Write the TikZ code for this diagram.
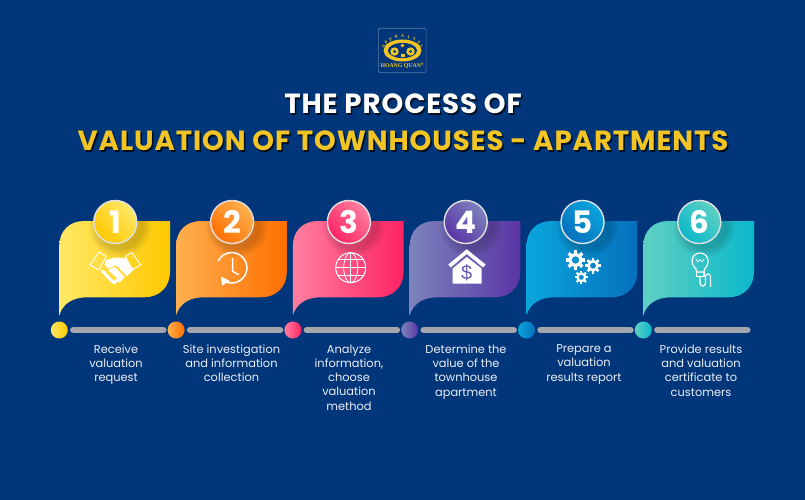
\documentclass[tikz,border=0pt]{standalone}
\usepackage{fontspec}
\setmainfont{Poppins}
\newfontfamily\serifbold{Liberation Serif}
\newfontfamily\plainsans{Liberation Sans}
\newfontfamily\ttlfont[LetterSpace=3.2]{Poppins}
\usetikzlibrary{calc}
\definecolor{bgblue}{HTML}{02367A}
\definecolor{titlegold}{HTML}{F2C524}
\definecolor{barg}{HTML}{A3A6AA}
\definecolor{a1}{HTML}{FFE866}\definecolor{b1}{HTML}{FFC800}
\definecolor{a2}{HTML}{FFB04F}\definecolor{b2}{HTML}{FF6F00}
\definecolor{a3}{HTML}{FF7FA0}\definecolor{b3}{HTML}{FF2464}
\definecolor{a4}{HTML}{7C83BC}\definecolor{b4}{HTML}{5A35A5}
\definecolor{a5}{HTML}{0AA5DC}\definecolor{b5}{HTML}{0670BC}
\definecolor{a6}{HTML}{5FD0C2}\definecolor{b6}{HTML}{0AB8CC}
\tikzset{x=1pt,y=-1pt,
  captxt/.style={font=\fontsize{11.4}{14.25}\selectfont,text=white!92!bgblue,align=center,anchor=north,inner sep=0pt},
  ttl/.style={font=\ttlfont\fontsize{27.7}{30}\selectfont\bfseries,anchor=center,inner sep=0pt},
  numtxt/.style={font=\fontsize{31}{31}\selectfont\bfseries,text=white,inner sep=0pt},
  barl/.style={line width=6.5pt,draw=barg,line cap=round},
  ico/.style={draw=white,line width=1.2pt,fill=none,line cap=round,line join=round},
  fingerl/.style={draw=white,line width=3pt,line cap=round}}
\newcommand{\stepgroup}[2]{%
  \begin{scope}[shift={(#1,0)}]
    \shade[left color=a#2,right color=b#2]
      (0,246) .. controls (0,231) and (10,221) .. (25,221) -- (110.7,221) -- (110.7,272)
      .. controls (110.7,287) and (100,297.3) .. (85,297.3) -- (28,297.3)
      .. controls (14,297.3) and (4,303) .. (0,315) -- cycle;
    \begin{scope}
      \clip (0,221) rectangle (110.7,297);
      \foreach \r in {31,29.5,...,23}{\fill[black,opacity=.028] (61,226) circle (\r);}
    \end{scope}
    \node[circle,minimum size=43pt,inner sep=0pt,draw=white!88!black,line width=1.4pt,
      left color=a#2,right color=b#2,shading angle=-45] (c#2) at (56,222) {};
    \node[numtxt] at (c#2.center) {#2};
    \node[circle,minimum size=17pt,inner sep=0pt,left color=a#2,right color=b#2] (d#2) at (0,330) {};
    \coordinate (bs#2) at (14,330);
    \coordinate (be#2) at (104,330);
    \draw[barl] (bs#2) -- (be#2);
  \end{scope}}
\newcommand{\gearico}[3]{%
  \draw[white,line width=#3*0.34pt] (#1,#2) circle ({#3*0.58});
  \foreach \a in {0,45,...,315}{\draw[white,line width=#3*0.34pt] ($(#1,#2)+(\a:{#3*0.7})$) -- ($(#1,#2)+(\a:{#3*1.0})$);}}
\begin{document}
\begin{tikzpicture}
\useasboundingbox (0,0) rectangle (805,500);
\fill[bgblue] (0,0) rectangle (805,500);
% logo
\node[draw=white!35!bgblue,line width=.6pt,rounded corners=1.5pt,fill=bgblue,minimum width=47.7pt,minimum height=44.4pt,inner sep=0pt] (logo) at (402.2,50.5) {};
\fill[titlegold] (402.5,50.5) ellipse (19 and 11);
\fill[bgblue] (402.5,50.5) ellipse (14.5 and 7.6);
\fill[titlegold] (394.5,51.5) circle (4.2);
\fill[titlegold] (410.5,51.5) circle (4.2);
\fill[bgblue] (394.5,51.5) circle (1.5);
\fill[bgblue] (410.5,51.5) circle (1.5);
\fill[titlegold] (402.5,45.5) circle (1.8);
\fill[titlegold] (400.5,54) rectangle (404.5,57.5);
\foreach \ch [count=\i from -4] in {A,P,P,R,A,I,S,A,L}{
  \pgfmathsetmacro{\tt}{\i*17.5}
  \node[font=\serifbold\fontsize{4.4}{4}\selectfont\bfseries,text=titlegold,inner sep=0pt,rotate={-\tt*0.75}]
    at ({402.5+20.5*sin(\tt)},{51.5-15*cos(\tt)}) {\ch};}
\node[font=\serifbold\fontsize{5.8}{6}\selectfont\bfseries,text=titlegold,inner sep=0pt] at (402.5,65.7) {HOANG QUAN\textsuperscript{®}};
% title
\node[ttl,text=black!75!bgblue] at (404.5,105.5) {THE PROCESS OF};
\node[ttl,text=white] (t1) at (403,104) {THE PROCESS OF};
\node[ttl,text=black!75!bgblue] at (404.5,142.5) {VALUATION OF TOWNHOUSES - APARTMENTS};
\node[ttl,text=titlegold] (t2) at (403,141) {VALUATION OF TOWNHOUSES - APARTMENTS};
% steps
\stepgroup{59.3}{1}\stepgroup{176.1}{2}\stepgroup{292.9}{3}\stepgroup{409.7}{4}\stepgroup{526.5}{5}\stepgroup{643.3}{6}
% captions
\node[captxt] (l1) at (116,344.5) {Receive\\valuation\\request};
\node[captxt] (l2) at (231.5,344.5) {Site investigation\\and information\\collection};
\node[captxt] (l3) at (349,344.5) {Analyze\\information,\\choose\\valuation\\method};
\node[captxt] (l4) at (466,344.5) {Determine the\\value of the\\townhouse\\apartment};
\node[captxt] (l5) at (584,344.5) {Prepare a\\valuation\\results report};
\node[captxt] (l6) at (701,344.5) {Provide results\\and valuation\\certificate to\\customers};
% 1 handshake
\draw[ico,line width=.9pt] (90,265) -- (99.3,251.7) -- (106,256.5) -- (99,270) -- cycle;
\draw[ico,line width=.9pt] (140.7,265) -- (131.7,252.3) -- (125.5,256.5) -- (132,270) -- cycle;
\fill[white] (106,260) -- (116,257.5) -- (125,258) -- (133.5,269.5) -- (127,276) -- (116,265) -- (109,268.5) -- (104.5,265) -- cycle;
\fill[white] (108,270) -- (115,267) -- (125,277) -- (119,280) -- cycle;
\draw[fingerl] (102.5,271) -- (106,274.5);
\draw[fingerl] (106,275) -- (109.5,278.5);
\draw[fingerl] (109.5,278.5) -- (113,282);
\draw[fingerl] (114,283) -- (117,280);
\draw[fingerl] (119,281) -- (122,278);
% 2 clock
\coordinate (clk) at (232.7,268.3);
\draw[ico,line width=1.5pt] (218.3,260.7) arc[start angle=208,end angle=490,radius=15.2];
\draw[ico,line width=1.5pt] (232.7,258.5) -- (232.7,271.5) -- (238.5,274.5);
\fill[white] (221,276.5) -- (230,281) -- (222,285.5) -- cycle;
% 3 globe
\coordinate (g) at (350.7,267.7);
\draw[ico,line width=1pt] (g) circle (15);
\draw[ico,line width=.8pt] (g) ellipse (7 and 15);
\draw[ico,line width=.8pt] ($(g)+(0,-15)$) -- ($(g)+(0,15)$);
\draw[ico,line width=.8pt] ($(g)+(-15,0)$) -- ($(g)+(15,0)$);
\draw[ico,line width=.8pt] ($(g)+(-12.5,-8)$) -- ($(g)+(12.5,-8)$);
\draw[ico,line width=.8pt] ($(g)+(-12.5,8)$) -- ($(g)+(12.5,8)$);
% 4 house
\fill[white] (466.7,249.3) -- (485.7,264.5) -- (483,267.5) -- (466.7,254) -- (450.7,267.5) -- (448.3,264.5) -- cycle;
\fill[white] (466.7,257) -- (481.7,268.5) -- (481.7,283.5) -- (452.7,283.5) -- (452.7,268.5) -- cycle;
\node[font=\plainsans\fontsize{20}{20}\selectfont,text=a4!50!b4,inner sep=0pt] at (466.7,272.7) {\$};
% 5 gears
\gearico{575.5}{260}{9.6}
\gearico{593}{265.7}{7.8}
\gearico{581.3}{277.3}{6.6}
% 6 bulb
\draw[ico] (696,269) .. controls (689,263) and (692,253) .. (700,253) .. controls (708,253) and (711,263) .. (704.5,269) -- (704,272) -- (696.5,272) -- cycle;
\draw[ico] (696.5,272) -- (696.5,276.5) -- (704,276.5) -- (704,272);
\draw[ico] (700,276.5) -- (700,283) .. controls (700,287) and (705.5,287) .. (705.5,283) -- (705.5,277) .. controls (705.5,273) and (710.5,273) .. (710.5,277) -- (710.5,286.5);
\draw[ico,line width=.7pt] (696,259) -- (698,262) -- (700,259.5) -- (702,262) -- (704,259);
\end{tikzpicture}
\end{document}
